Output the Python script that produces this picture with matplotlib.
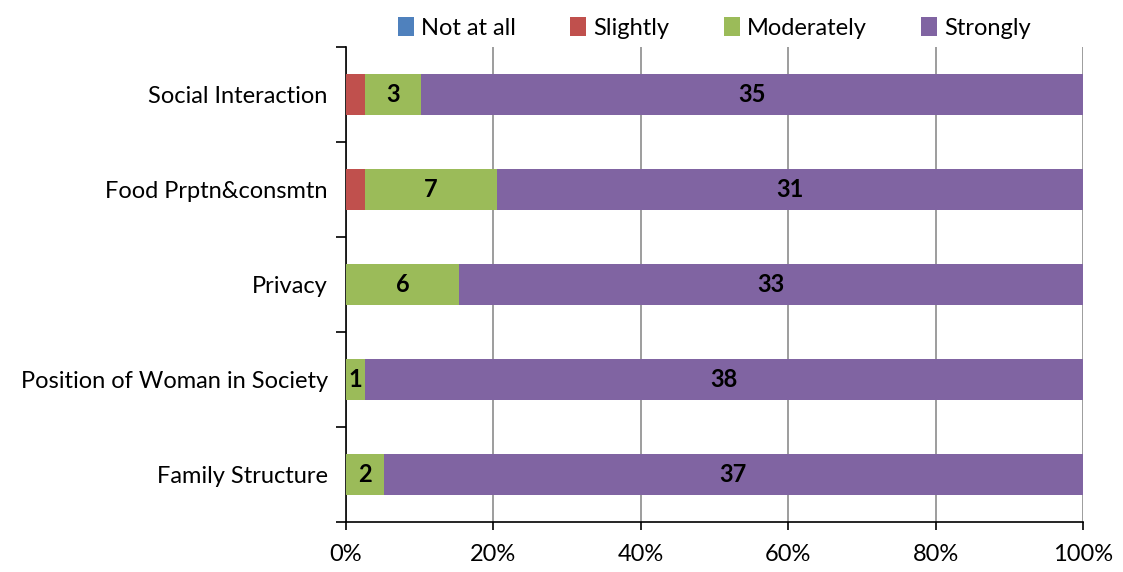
import numpy as np
import matplotlib
matplotlib.use("Agg")
import matplotlib.pyplot as plt
from matplotlib.ticker import FuncFormatter

plt.rcParams['font.family'] = ['Lato', 'DejaVu Sans']

# Response counts per item (top to bottom as shown)
categories = ["Social Interaction", "Food Prptn&consmtn", "Privacy",
              "Position of Woman in Society", "Family Structure"]
series_names = ["Not at all", "Slightly", "Moderately", "Strongly"]
not_at_all = [0, 0, 0, 0, 0]
slightly = [1, 1, 0, 0, 0]
moderately = [3, 7, 6, 1, 2]
strongly = [35, 31, 33, 38, 37]
labelled = ["Moderately", "Strongly"]

colors = ["#4F81BD", "#C0504D", "#9BBB59", "#8064A2"]

counts = np.array([not_at_all, slightly, moderately, strongly], dtype=float)
shares = counts / counts.sum(axis=0) * 100

fig = plt.figure(figsize=(11.23, 5.72), dpi=100)
ax = fig.add_axes([0.308, 0.0874, 0.6564, 0.8304])

y = np.arange(len(categories))[::-1]
left = np.zeros(len(categories))
for name, share, cnt, col in zip(series_names, shares, counts, colors):
    bars = ax.barh(y, share, left=left, height=0.44, color=col, label=name, zorder=3)
    if name in labelled:
        for b, c in zip(bars, cnt):
            if c > 0:
                ax.text(b.get_x() + b.get_width() / 2, b.get_y() + b.get_height() / 2,
                        f"{int(c)}", ha="center", va="center", fontsize=17,
                        fontweight="bold", color="black", zorder=4)
    left += share

ax.set_xlim(0, 100)
ax.set_ylim(-0.5, len(categories) - 0.5)
ax.set_xticks(np.arange(0, 101, 20))
ax.xaxis.set_major_formatter(FuncFormatter(lambda v, p: f"{int(v)}%"))
ax.set_yticks(y)
ax.set_yticklabels(categories)
ax.set_yticks(np.arange(-0.5, len(categories)), minor=True)
ax.tick_params(axis="y", which="major", length=0, pad=13, labelsize=17)
ax.tick_params(axis="y", which="minor", length=7, width=1.2, direction="out")
ax.tick_params(axis="x", length=6, width=1.2, direction="out", labelsize=17, pad=10)
ax.grid(axis="x", color="#8c8c8c", linewidth=1.2, zorder=0)

for s in ["top", "right"]:
    ax.spines[s].set_visible(False)
for s in ["left", "bottom"]:
    ax.spines[s].set_linewidth(1.2)

leg = ax.legend(loc="center", bbox_to_anchor=(0.5, 1.04), ncol=4, frameon=False,
                fontsize=17, handlelength=0.68, handleheight=0.85, handletextpad=0.3,
                columnspacing=2.3, borderaxespad=0)

fig.savefig("out.png", dpi=100)
